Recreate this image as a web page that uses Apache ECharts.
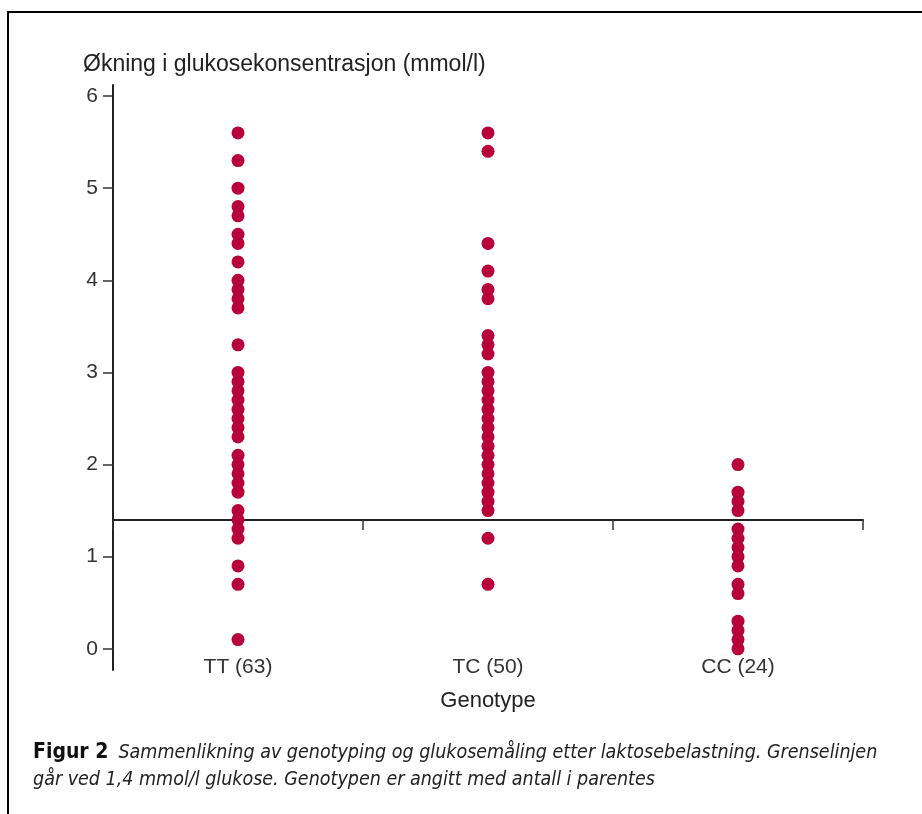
<!DOCTYPE html>
<html>
<head>
<meta charset="utf-8">
<script src="https://cdn.jsdelivr.net/npm/echarts@6/dist/echarts.min.js"></script>
<style>
  html, body { margin: 0; padding: 0; background: #fff; }
  #chart { width: 922px; height: 814px; }
</style>
</head>
<body>
<div id="chart"></div>
<script>
// ---- data ----
const categories = ['TT (63)', 'TC (50)', 'CC (24)'];
const ttValues = [5.6, 5.3, 5.0, 4.8, 4.7, 4.5, 4.4, 4.2, 4.0, 3.9, 3.8, 3.7, 3.3, 3.0, 2.9, 2.8, 2.7, 2.6, 2.5, 2.4, 2.3, 2.1, 2.0, 1.9, 1.8, 1.7, 1.5, 1.4, 1.3, 1.2, 0.9, 0.7, 0.1];
const tcValues = [5.6, 5.4, 4.4, 4.1, 3.9, 3.8, 3.4, 3.3, 3.2, 3.0, 2.9, 2.8, 2.7, 2.6, 2.5, 2.4, 2.3, 2.2, 2.1, 2.0, 1.9, 1.8, 1.7, 1.6, 1.5, 1.2, 0.7];
const ccValues = [2.0, 1.7, 1.6, 1.5, 1.3, 1.2, 1.1, 1.0, 0.9, 0.7, 0.6, 0.3, 0.2, 0.1, 0.0];
const yTicks = [0, 1, 2, 3, 4, 5, 6];
const threshold = 1.4;
const yTitle = 'Økning i glukosekonsentrasjon (mmol/l)';
const xTitle = 'Genotype';
const captionBold = 'Figur 2';
const captionLine1 = 'Sammenlikning av genotyping og glukosemåling etter laktosebelastning. Grenselinjen';
const captionLine2 = 'går ved 1,4 mmol/l glukose. Genotypen er angitt med antall i parentes';

const groups = [ttValues, tcValues, ccValues];
const points = [];
groups.forEach((vals, i) => vals.forEach(v => points.push([categories[i], v])));

const chart = echarts.init(document.getElementById('chart'));
const font = '"Liberation Sans", Arial, sans-serif';
const condFont = '"Liberation Sans Narrow", "DejaVu Sans Condensed", ' + font;
chart.setOption({
  backgroundColor: '#fff',
  animation: false,
  textStyle: { fontFamily: font },
  title: [
    {
      text: yTitle,
      left: 83, top: 53, padding: 0,
      textStyle: { fontSize: 23, fontWeight: 'normal', color: '#222', lineHeight: 24, fontFamily: font }
    },
    {
      text: '{b|' + captionBold + '}  {i|' + captionLine1 + '}\n{i|' + captionLine2 + '}',
      left: 33, top: 739, padding: 0,
      textStyle: {
        fontWeight: 'normal',
        rich: {
          b: { fontSize: 21, fontWeight: 'bold', fontStyle: 'normal', color: '#111', lineHeight: 27, fontFamily: condFont },
          i: { fontSize: 19.5, fontWeight: 'normal', fontStyle: 'italic', color: '#222', lineHeight: 27, fontFamily: condFont }
        }
      }
    }
  ],
  graphic: [
    { type: 'rect', shape: { x: 8, y: 12, width: 1000, height: 1000 }, style: { fill: 'none', stroke: '#000', lineWidth: 2 }, silent: true }
  ],
  grid: { left: 113, right: 59, top: 85, bottom: 144 },
  xAxis: [
    {
      type: 'category', data: categories, position: 'bottom', offset: -22,
      axisLine: { show: false, onZero: false }, axisTick: { show: false },
      axisLabel: { margin: 9, fontSize: 21, color: '#333', fontFamily: font },
      name: xTitle, nameLocation: 'middle', nameGap: 42,
      nameTextStyle: { fontSize: 22, color: '#222', fontFamily: font },
      splitLine: { show: false }
    },
    {
      type: 'category', data: categories, position: 'bottom', offset: -150,
      axisLine: { show: true, onZero: false, lineStyle: { color: '#222', width: 2 } },
      axisTick: { show: true, length: 10, lineStyle: { color: '#333', width: 1.5 } },
      axisLabel: { show: false },
      splitLine: { show: false }
    }
  ],
  yAxis: {
    type: 'value', min: -0.23, max: 6.12,
    axisLine: { show: true, lineStyle: { color: '#222', width: 2 } },
    axisTick: { show: true, length: 10, customValues: yTicks, lineStyle: { color: '#333', width: 1.5 } },
    axisLabel: { margin: 15, fontSize: 21, color: '#333', customValues: yTicks, fontFamily: font },
    splitLine: { show: false }
  },
  series: [{
    type: 'scatter',
    xAxisIndex: 0,
    data: points,
    symbol: 'circle',
    symbolSize: 13,
    itemStyle: { color: '#b8003a', opacity: 1 }
  }]
});
</script>
</body>
</html>
